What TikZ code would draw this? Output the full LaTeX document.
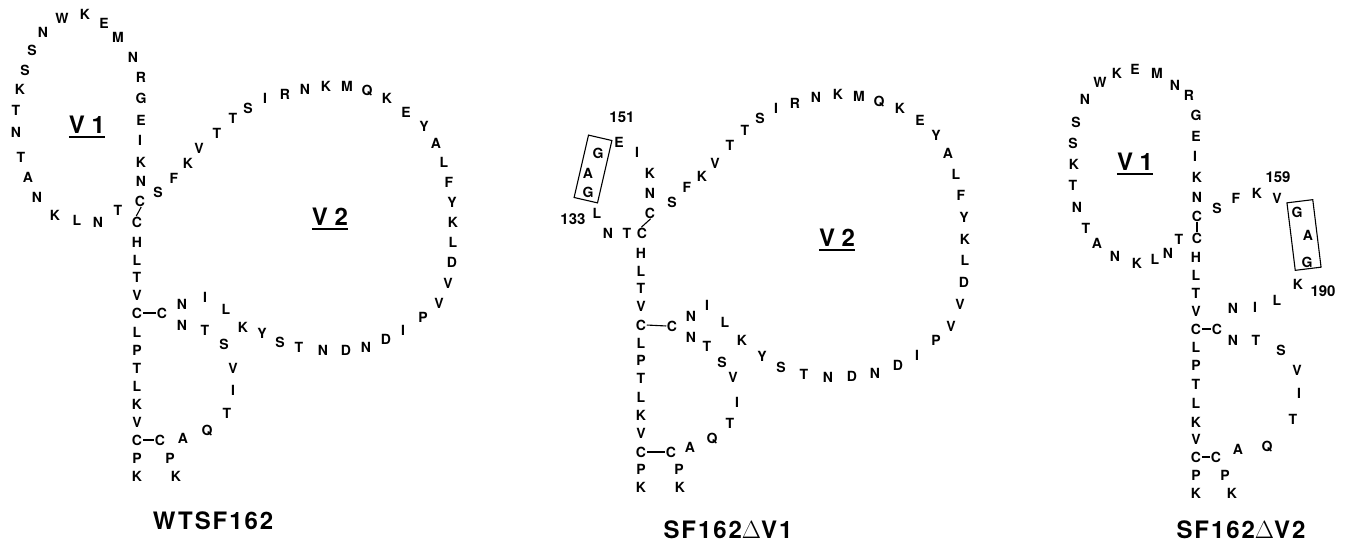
\documentclass[tikz,border=0pt]{standalone}
\usepackage{fontspec}
\setmainfont{TeX Gyre Heros}
\newfontfamily\titlefont[LetterSpace=8]{TeX Gyre Heros}
\begin{document}
\begin{tikzpicture}[x=1pt,y=-1pt,
  aa/.style={inner sep=0pt,font=\fontsize{14}{14}\selectfont\bfseries},
  num/.style={inner sep=0pt,font=\fontsize{15}{15}\selectfont\bfseries},
  vlab/.style={inner sep=0pt,font=\fontsize{24}{24}\selectfont\bfseries},
  ttl/.style={inner sep=0pt,font=\fontsize{24}{24}\selectfont\titlefont\bfseries},
  bond/.style={line width=1.1pt,shorten <=0.5pt,shorten >=0.5pt},
  uline/.style={line width=1.6pt},
  gagbox/.style={draw,line width=1.1pt,inner sep=0pt}]
\useasboundingbox (0,0) rectangle (1351,554);

% ---------------- Panel 1: WTSF162 ----------------
\foreach \x/\y/\t [count=\i] in {62/18/W, 85/14/K, 104/23/E, 118/37/M, 133/57/N, 141/77/R, 141/98/G, 141/120/E, 140/140/I, 141/162/K, 141/181/N,
  43/32/N, 32/50/S, 25/70/S, 20/89/K, 16/110/T, 16/132/N, 21/157/T, 28/177/A, 37/197/N, 55/215/K, 77/220/L, 98/222/N, 118/210/T,
  137/242/H, 137/260/L, 137/277/T, 137/295/V, 137/332/L, 137/350/P, 137/368/T, 137/386/L, 137/404/K, 137/422/V, 137/458/P, 137/476/K, 170/458/P, 176/476/K,
  158/192/S, 174/178/F, 188/163/K, 199/148/V, 217/133/T, 233/118/T, 248/108/S, 265/98/I, 285/94/R, 305/89/N, 326/86/K, 347/86/M, 367/91/Q, 387/98/K, 406/112/E,
  424/126/Y, 436/143/A, 444/162/L, 449/182/F, 452/202/Y, 453/222/K, 453/242/L, 452/262/D, 448/283/V, 439/303/V, 423/317/P, 403/330/I, 386/339/D, 366/347/N, 346/350/D,
  323/350/N, 299/347/T, 280/342/S, 262/333/Y, 243/327/K, 226/309/L, 205/297/I, 182/304/N,
  182/325/N, 205/330/T, 224/344/S, 233/368/V, 233/390/I, 227/413/T, 207/431/Q, 183/438/A}
  \node[aa] (pa\i) at (\x,\y) {\t};
\node[aa] (c1a) at (140,201) {C};
\node[aa] (c1b) at (137,222) {C};
\node[aa] (c1c) at (137,313) {C};
\node[aa] (c1d) at (137,440) {C};
\node[aa] (c1e) at (162,313) {C};
\node[aa] (c1f) at (160,440) {C};
\draw[bond] ([xshift=1.5pt]c1a.south) -- ([xshift=-1pt]c1b.north);
\draw[bond] (c1c.east) -- (c1e.west);
\draw[bond] (c1d.east) -- (c1f.west);
\node[vlab] (v1a) at (87,125) {V 1};
\draw[uline] ([yshift=-3pt]v1a.south west) -- ([yshift=-3pt]v1a.south east);
\node[vlab] (v2a) at (330,217) {V 2};
\draw[uline] ([yshift=-3pt]v2a.south west) -- ([yshift=-3pt]v2a.south east);
\node[ttl] (t1) at (213,521) {WTSF162};

% ---------------- Panel 2: SF162 dV1 ----------------
\foreach \x/\y/\t [count=\i] in {619/142/E, 637/152/I, 650/173/K, 650/193/N, 627/233/T, 608/233/N, 597/213/L, 598/153/G, 588/173/A, 588/192/G,
  641/253/H, 641/271/L, 641/288/T, 641/306/V, 641/343/L, 641/360/P, 641/378/T, 641/397/L, 641/415/K, 641/433/V, 641/469/P, 641/487/K, 679/469/P, 680/487/K,
  672/202/S, 687/187/F, 702/176/K, 715/163/V, 730/145/T, 745/130/T, 760/118/S, 776/108/I, 795/103/R, 816/97/N, 838/94/K, 859/96/M, 879/102/Q, 900/108/K, 920/120/E,
  936/135/Y, 948/153/A, 956/174/L, 961/195/F, 964/217/Y, 965/239/K, 965/260/L, 964/282/D, 960/304/V, 951/326/V, 936/340/P, 917/355/I, 898/365/D, 875/373/N, 852/376/D,
  828/377/N, 804/374/T, 781/367/S, 762/356/Y, 742/340/K, 725/322/L, 707/305/I, 691/316/N,
  691/337/N, 707/346/T, 722/362/S, 733/377/V, 737/402/I, 730/423/T, 712/439/Q, 690/447/A}
  \node[aa] (pb\i) at (\x,\y) {\t};
\node[num] (n151) at (622,117) {151};
\node[num] (n133) at (573,219) {133};
\node[gagbox,minimum width=24pt,minimum height=64pt,rotate=-13] (box2) at (593,169) {};
\node[aa] (c2a) at (650,213) {C};
\node[aa] (c2b) at (642,233) {C};
\node[aa] (c2c) at (641,325) {C};
\node[aa] (c2d) at (641,452) {C};
\node[aa] (c2e) at (672,326) {C};
\node[aa] (c2f) at (671,452) {C};
\draw[bond] ([xshift=1pt]c2a.south) -- ([xshift=-1pt]c2b.north);
\draw[bond] (c2c.east) -- (c2e.west);
\draw[bond] (c2d.east) -- (c2f.west);
\node[vlab] (v2b) at (837,238) {V 2};
\draw[uline] ([yshift=-3pt]v2b.south west) -- ([yshift=-3pt]v2b.south east);
\node[ttl] (t2) at (728,530) {SF162\(\Delta\)V1};

% ---------------- Panel 3: SF162 dV2 ----------------
\foreach \x/\y/\t [count=\i] in {1100/82/W, 1117/73/K, 1135/69/E, 1157/73/M, 1175/85/N, 1189/95/R, 1196/115/G, 1196/136/E, 1195/156/I, 1197/177/K, 1197/197/N,
  1085/99/N, 1076/122/S, 1073/143/S, 1074/164/K, 1073/185/T, 1077/207/N, 1086/228/T, 1097/243/A, 1115/256/N, 1137/263/K, 1155/259/L, 1168/253/N, 1179/239/T,
  1196/257/H, 1196/275/L, 1196/293/T, 1196/311/V, 1196/347/L, 1196/365/P, 1196/384/T, 1196/403/L, 1196/422/K, 1196/439/V, 1196/475/P, 1196/493/K, 1225/475/P, 1232/493/K,
  1217/208/S, 1236/198/F, 1257/193/K, 1277/198/V, 1298/284/K, 1277/300/L, 1255/307/I, 1233/308/N, 1297/212/G, 1308/235/A, 1307/262/G,
  1233/340/N, 1256/340/T, 1281/350/S, 1297/370/V, 1299/393/I, 1293/419/T, 1267/447/Q, 1238/449/A}
  \node[aa] (pc\i) at (\x,\y) {\t};
\node[num] (n159) at (1278,177) {159};
\node[num] (n190) at (1323,291) {190};
\node[gagbox,minimum width=26pt,minimum height=68pt,rotate=7] (box3) at (1304,235) {};
\node[aa] (c3a) at (1197,216) {C};
\node[aa] (c3b) at (1197,238) {C};
\node[aa] (c3c) at (1196,329) {C};
\node[aa] (c3d) at (1196,457) {C};
\node[aa] (c3e) at (1217,329) {C};
\node[aa] (c3f) at (1216,457) {C};
\draw[bond] (c3a.south) -- (c3b.north);
\draw[bond] (c3c.east) -- (c3e.west);
\draw[bond] (c3d.east) -- (c3f.west);
\node[vlab] (v1c) at (1135,162) {V 1};
\draw[uline] ([yshift=-3pt]v1c.south west) -- ([yshift=-3pt]v1c.south east);
\node[ttl] (t3) at (1241,530) {SF162\(\Delta\)V2};
\end{tikzpicture}
\end{document}
